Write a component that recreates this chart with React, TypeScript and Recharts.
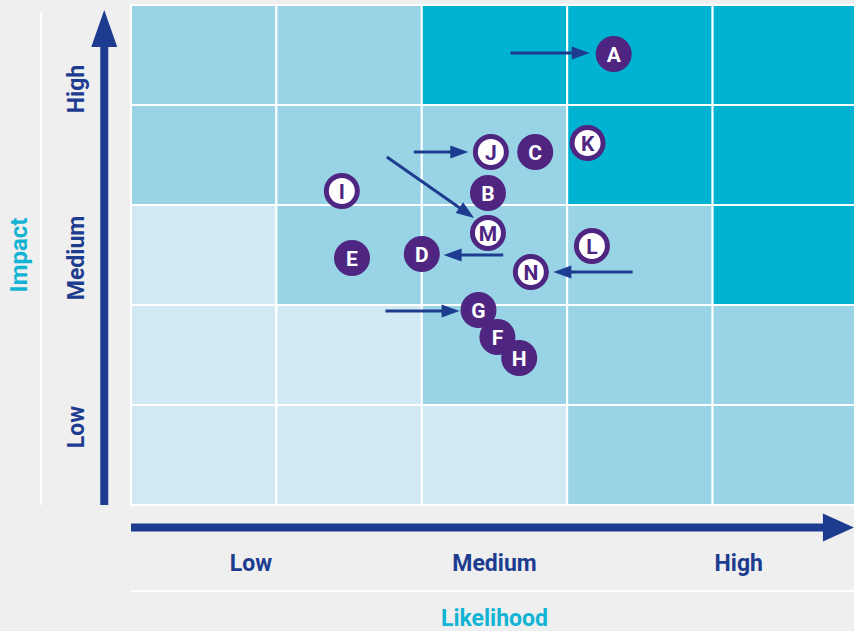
import React from 'react';
import { ScatterChart, Scatter, XAxis, YAxis, ReferenceArea, ReferenceLine } from 'recharts';

// Axis tick positions (in grid units, 0..5) and labels
const likelihoodTicks = [0.825, 2.5, 4.18];
const likelihoodLabels = ['Low', 'Medium', 'High'];
const impactTicks = [0.78, 2.47, 4.16];
const impactLabels = ['Low', 'Medium', 'High'];

// Heat level per cell, rows listed from bottom (low impact) to top
const heatRows = [
  [0, 0, 0, 1, 1],
  [0, 0, 1, 1, 1],
  [0, 1, 1, 1, 2],
  [1, 1, 1, 2, 2],
  [1, 1, 2, 2, 2],
];
const heatColors = ['#d1e9f2', '#98d4e5', '#00b3d3'];

// Risks drawn as filled purple discs
const filledRisks = [
  { id: 'A', x: 3.32, y: 4.51 },
  { id: 'C', x: 2.78, y: 3.53 },
  { id: 'B', x: 2.455, y: 3.12 },
  { id: 'E', x: 1.52, y: 2.47 },
  { id: 'D', x: 2.0, y: 2.51 },
  { id: 'G', x: 2.39, y: 1.95 },
  { id: 'F', x: 2.52, y: 1.68 },
  { id: 'H', x: 2.67, y: 1.47 },
];

// Risks drawn as outlined discs
const outlinedRisks = [
  { id: 'J', x: 2.475, y: 3.53 },
  { id: 'K', x: 3.14, y: 3.62 },
  { id: 'I', x: 1.45, y: 3.14 },
  { id: 'M', x: 2.455, y: 2.72 },
  { id: 'L', x: 3.17, y: 2.59 },
  { id: 'N', x: 2.75, y: 2.33 },
];

// Movement arrows (from -> to)
const movements = [
  { x1: 2.61, y1: 4.52, x2: 3.155, y2: 4.52 },
  { x1: 1.945, y1: 3.53, x2: 2.32, y2: 3.53 },
  { x1: 1.76, y1: 3.48, x2: 2.36, y2: 2.87 },
  { x1: 2.56, y1: 2.5, x2: 2.15, y2: 2.5 },
  { x1: 3.45, y1: 2.33, x2: 2.905, y2: 2.33 },
  { x1: 1.75, y1: 1.94, x2: 2.26, y2: 1.94 },
];

const NAVY = '#1d3c8f';
const PURPLE = '#4f2582';
const CYAN = '#13b3d3';
const FONT = 'Roboto, "Noto Sans", sans-serif';

const arrowShape = (headLen: number, headWidth: number, strokeW: number) => (p: any) => {
  const { x1, y1, x2, y2 } = p;
  const dx = x2 - x1;
  const dy = y2 - y1;
  const len = Math.sqrt(dx * dx + dy * dy) || 1;
  const ux = dx / len;
  const uy = dy / len;
  const bx = x2 - ux * headLen;
  const by = y2 - uy * headLen;
  const px = -uy * (headWidth / 2);
  const py = ux * (headWidth / 2);
  return (
    <g>
      <line x1={x1} y1={y1} x2={bx + ux} y2={by + uy} stroke={NAVY} strokeWidth={strokeW} />
      <polygon points={`${x2},${y2} ${bx + px},${by + py} ${bx - px},${by - py}`} fill={NAVY} />
    </g>
  );
};

const plainLine = (p: any) => (
  <line x1={p.x1} y1={p.y1} x2={p.x2} y2={p.y2} stroke="#ffffff" strokeWidth={2} />
);

const FilledDot = (props: any) => {
  const { cx, cy, payload } = props;
  return (
    <g>
      <circle cx={cx} cy={cy} r={18} fill={PURPLE} />
      <text x={cx} y={cy} dy={7.5} textAnchor="middle" fill="#fff" fontSize={21} fontWeight={700} fontFamily={FONT}>
        {payload.id}
      </text>
    </g>
  );
};

const OutlinedDot = (props: any) => {
  const { cx, cy, payload } = props;
  return (
    <g>
      <circle cx={cx} cy={cy} r={18} fill={PURPLE} />
      <circle cx={cx} cy={cy} r={13} fill="#fff" />
      <text x={cx} y={cy} dy={7.5} textAnchor="middle" fill={PURPLE} fontSize={21} fontWeight={700} fontFamily={FONT}>
        {payload.id}
      </text>
    </g>
  );
};

const XTick = (props: any) => {
  const { x, y, payload } = props;
  const i = likelihoodTicks.indexOf(payload.value);
  return (
    <text x={x} y={y + 66} textAnchor="middle" fill={NAVY} fontSize={23} fontWeight={700} fontFamily={FONT}>
      {likelihoodLabels[i]}
    </text>
  );
};

const YTick = (props: any) => {
  const { x, y, payload } = props;
  const i = impactTicks.indexOf(payload.value);
  const tx = x - 47;
  return (
    <text
      x={tx}
      y={y}
      transform={`rotate(-90, ${tx}, ${y})`}
      textAnchor="middle"
      fill={NAVY}
      fontSize={23}
      fontWeight={700}
      fontFamily={FONT}
    >
      {impactLabels[i]}
    </text>
  );
};

const XTitle = (props: any) => {
  const vb = props.viewBox || {};
  const cx = 494.5;
  return (
    <text x={cx} y={vb.y + 121} textAnchor="middle" fill={CYAN} fontSize={23} fontWeight={700} fontFamily={FONT}>
      Likelihood
    </text>
  );
};

const YTitle = (props: any) => {
  const vb = props.viewBox || {};
  const tx = vb.x + 27;
  const ty = vb.y + vb.height / 2;
  return (
    <text
      x={tx}
      y={ty}
      transform={`rotate(-90, ${tx}, ${ty})`}
      textAnchor="middle"
      fill={CYAN}
      fontSize={24}
      fontWeight={700}
      fontFamily={FONT}
    >
      Impact
    </text>
  );
};

export default function App() {
  const cells: React.ReactNode[] = [];
  heatRows.forEach((row, r) => {
    row.forEach((level, c) => {
      cells.push(
        <ReferenceArea
          key={`cell-${r}-${c}`}
          x1={c}
          x2={c + 1}
          y1={r}
          y2={r + 1}
          fill={heatColors[level]}
          fillOpacity={1}
          stroke="#ffffff"
          strokeWidth={2}
          ifOverflow="visible"
        />
      );
    });
  });

  return (
    <div style={{ position: 'absolute', left: 0, top: 0, width: 854, height: 631, background: '#efefef', overflow: 'hidden' }}>
      <ScatterChart width={858} height={631} margin={{ top: 5, right: 0, bottom: 0, left: 0 }}>
        <XAxis
          type="number"
          dataKey="x"
          domain={[0, 5]}
          ticks={likelihoodTicks}
          interval={0}
          axisLine={false}
          tickLine={false}
          tickSize={0}
          tickMargin={0}
          height={126}
          tick={<XTick />}
          label={<XTitle />}
          allowDataOverflow
        />
        <YAxis
          type="number"
          dataKey="y"
          domain={[0, 5]}
          ticks={impactTicks}
          interval={0}
          axisLine={false}
          tickLine={false}
          tickSize={0}
          tickMargin={0}
          width={131}
          tick={<YTick />}
          label={<YTitle />}
          allowDataOverflow
        />
        {cells}
        {/* decorative separators */}
        <ReferenceLine segment={[{ x: -0.619, y: 0 }, { x: -0.619, y: 4.93 }]} ifOverflow="visible" shape={plainLine} />
        <ReferenceLine segment={[{ x: 0, y: -0.86 }, { x: 5, y: -0.86 }]} ifOverflow="visible" shape={plainLine} />
        {/* big axis arrows */}
        <ReferenceLine
          segment={[{ x: -0.184, y: 0 }, { x: -0.184, y: 4.95 }]}
          ifOverflow="visible"
          shape={arrowShape(37, 26, 8)}
        />
        <ReferenceLine
          segment={[{ x: 0, y: -0.225 }, { x: 4.972, y: -0.225 }]}
          ifOverflow="visible"
          shape={arrowShape(31, 28, 8)}
        />
        {movements.map((m, i) => (
          <ReferenceLine
            key={`mv-${i}`}
            segment={[{ x: m.x1, y: m.y1 }, { x: m.x2, y: m.y2 }]}
            ifOverflow="visible"
            shape={arrowShape(18, 13, 3)}
          />
        ))}
        <Scatter data={filledRisks} shape={<FilledDot />} isAnimationActive={false} />
        <Scatter data={outlinedRisks} shape={<OutlinedDot />} isAnimationActive={false} />
      </ScatterChart>
    </div>
  );
}
